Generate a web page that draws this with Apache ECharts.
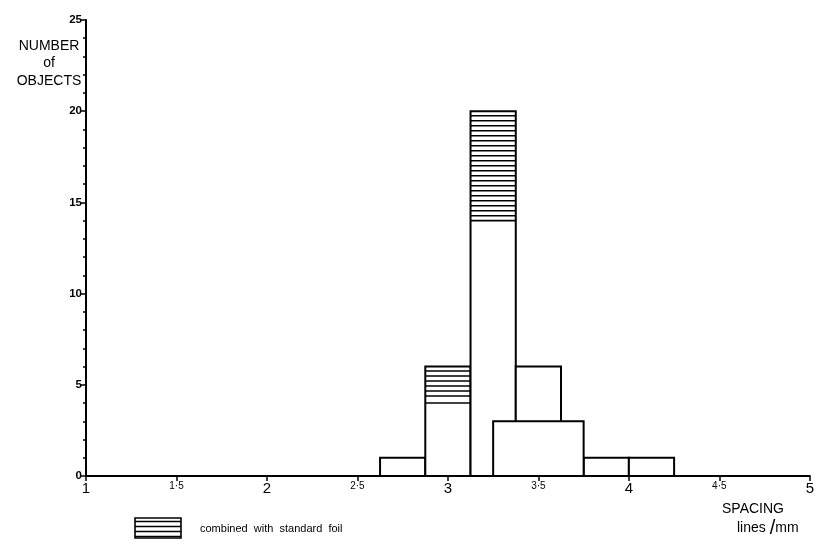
<!DOCTYPE html>
<html>
<head>
<meta charset="utf-8">
<script src="https://cdn.jsdelivr.net/npm/echarts@6/dist/echarts.min.js"></script>
<style>
html, body { margin: 0; padding: 0; background: #fff; }
#chart { width: 817px; height: 549px; }
</style>
</head>
<body>
<div id="chart"></div>
<script>
// histogram bins, spacing in lines/mm
var binStart = [2.625, 2.875, 3.125, 3.375, 3.75, 4.0];
var binEnd = [2.875, 3.125, 3.375, 3.625, 4.0, 4.25];
var plainCount = [1, 4, 14, 6, 1, 1];
var combinedCount = [0, 2, 6, 0, 0, 0];
// the wide bin that is drawn over the others
var wideStart = [3.25];
var wideEnd = [3.75];
var wideCount = [3];

var xTicks = [1, 1.5, 2, 2.5, 3, 3.5, 4, 4.5, 5];
var yTicks = [0, 5, 10, 15, 20, 25];

var binData = binStart.map(function (s, i) {
  return [s, binEnd[i], plainCount[i], combinedCount[i]];
});
var wideData = wideStart.map(function (s, i) {
  return [s, wideEnd[i], wideCount[i], 0];
});

function hatchLines(x0, x1, yTop, yBottom) {
  var out = [];
  for (var y = yTop + 4.5; y < yBottom - 3; y += 5) {
    out.push({
      type: 'line',
      shape: { x1: x0, y1: y, x2: x1, y2: y },
      style: { stroke: '#000', lineWidth: 1.6 }
    });
  }
  return out;
}

function renderBin(params, api) {
  var x0 = api.value(0), x1 = api.value(1);
  var p = api.value(2), c = api.value(3);
  var bl = api.coord([x0, 0]);
  var tr = api.coord([x1, p + c]);
  var mid = api.coord([x1, p]);
  var children = [{
    type: 'rect',
    shape: { x: bl[0], y: tr[1], width: tr[0] - bl[0], height: bl[1] - tr[1] },
    style: { fill: '#fff', stroke: '#000', lineWidth: 2 }
  }];
  if (c > 0) {
    children = children.concat(hatchLines(bl[0], tr[0], tr[1], mid[1]));
    children.push({
      type: 'line',
      shape: { x1: bl[0], y1: mid[1], x2: tr[0], y2: mid[1] },
      style: { stroke: '#000', lineWidth: 1.6 }
    });
  }
  return { type: 'group', children: children };
}

var chart = echarts.init(document.getElementById('chart'));

var legendBox = [{
  type: 'rect',
  shape: { x: 0, y: 0, width: 46, height: 20 },
  style: { fill: '#fff', stroke: '#000', lineWidth: 1.6 }
}].concat(hatchLines(0, 46, -1, 22));

var option = {
  backgroundColor: '#fff',
  animation: false,
  grid: { left: 86, right: 5, top: 20, bottom: 73 },
  xAxis: {
    type: 'value',
    min: xTicks[0],
    max: xTicks[xTicks.length - 1],
    interval: 0.5,
    splitLine: { show: false },
    axisLine: { lineStyle: { color: '#000', width: 2 } },
    axisTick: { length: 5, lineStyle: { color: '#000', width: 1.5 } },
    axisLabel: {
      margin: 5,
      color: '#000',
      formatter: function (v) {
        if (v % 1 === 0) return '{big|' + v + '}';
        return '{small|' + v.toFixed(1).replace('.', '·') + '}';
      },
      rich: {
        big: { fontSize: 15, fontFamily: 'Liberation Sans', color: '#000' },
        small: { fontSize: 10, fontFamily: 'Liberation Sans', color: '#000' }
      }
    }
  },
  yAxis: {
    type: 'value',
    min: yTicks[0],
    max: yTicks[yTicks.length - 1],
    interval: 5,
    splitLine: { show: false },
    axisLine: { show: true, lineStyle: { color: '#000', width: 2 } },
    axisTick: { show: true, length: 5, lineStyle: { color: '#000', width: 1.5 } },
    minorTick: { show: true, splitNumber: 5, length: 3, lineStyle: { color: '#000', width: 1.5 } },
    axisLabel: {
      margin: 4,
      color: '#000',
      fontSize: 11.5,
      fontWeight: 'bold',
      fontFamily: 'Liberation Sans'
    }
  },
  series: [
    {
      type: 'custom',
      name: 'bins',
      renderItem: renderBin,
      encode: { x: [0, 1], y: [2] },
      data: binData,
      z: 2
    },
    {
      type: 'custom',
      name: 'wide',
      renderItem: renderBin,
      encode: { x: [0, 1], y: [2] },
      data: wideData,
      z: 3
    }
  ],
  graphic: [
    {
      type: 'text',
      x: 49, y: 37,
      style: {
        text: 'NUMBER\nof\nOBJECTS',
        textAlign: 'center',
        textVerticalAlign: 'top',
        fontSize: 14,
        lineHeight: 17.5,
        fontFamily: 'Liberation Sans',
        fill: '#000'
      }
    },
    {
      type: 'text',
      x: 722, y: 502,
      style: {
        text: 'SPACING',
        fontSize: 14,
        fontFamily: 'Liberation Sans',
        fill: '#000'
      }
    },
    {
      type: 'text',
      x: 737, y: 518,
      style: {
        text: '{a|lines }{s|/}{a|mm}',
        rich: {
          a: { fontSize: 14, fontFamily: 'Liberation Sans', fill: '#000', color: '#000' },
          s: { fontSize: 20, fontFamily: 'Liberation Sans', fill: '#000', color: '#000' }
        }
      }
    },
    {
      type: 'group',
      x: 135, y: 518,
      children: legendBox
    },
    {
      type: 'text',
      x: 200, y: 529,
      style: {
        text: 'combined  with  standard  foil',
        textVerticalAlign: 'middle',
        fontSize: 11,
        fontFamily: 'Liberation Sans',
        fill: '#000'
      }
    }
  ]
};

chart.setOption(option);
</script>
</body>
</html>
